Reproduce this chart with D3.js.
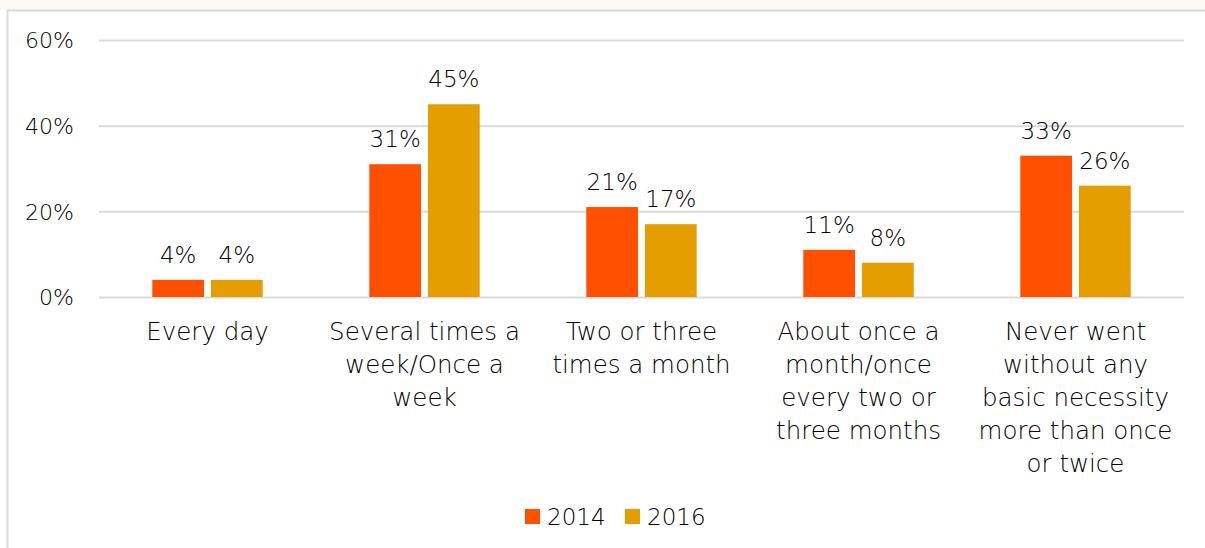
<!DOCTYPE html>
<html>
<head>
<meta charset="utf-8">
<script src="https://cdn.jsdelivr.net/npm/d3@7"></script>
<style>
  html, body { margin: 0; padding: 0; background: #fff; }
  svg { display: block; }
  text { font-family: "Century Gothic", "DejaVu Sans", sans-serif; fill: #000; font-weight: 200; }
</style>
</head>
<body>
<svg id="chart" width="1205" height="548"></svg>
<script>
// Frequency of going without a basic necessity, by survey year
const categories = [
  ["Every day"],
  ["Several times a", "week/Once a", "week"],
  ["Two or three", "times a month"],
  ["About once a", "month/once", "every two or", "three months"],
  ["Never went", "without any", "basic necessity", "more than once", "or twice"]
];
const years = ["2014", "2016"];
const values2014 = [4, 31, 21, 11, 33];
const values2016 = [4, 45, 17, 8, 26];
const yTicks = [0, 20, 40, 60];
const colors = ["#FF5000", "#E59E00"];

const series = [values2014, values2016];
const svg = d3.select("#chart");
const W = 1205, H = 548;

// outer frame
svg.append("rect").attr("x", 0).attr("y", 0).attr("width", W).attr("height", 10).attr("fill", "#fdf9f7");
svg.append("rect").attr("x", 7.5).attr("y", 10.5).attr("width", W + 10).attr("height", H + 10)
  .attr("fill", "#fff").attr("stroke", "#d9d9d9").attr("stroke-width", 2);

const plot = { left: 99, right: 1184, top: 40, bottom: 297 };
const x0 = d3.scaleBand().domain(d3.range(categories.length)).range([plot.left, plot.right]).paddingInner(0).paddingOuter(0);
const y = d3.scaleLinear().domain([0, 60]).range([plot.bottom, plot.top]);

// gridlines
const yAxis = d3.axisLeft(y).tickValues(yTicks).tickSize(-(plot.right - plot.left)).tickFormat(d => d + "%").tickPadding(25);
const gy = svg.append("g").attr("transform", `translate(${plot.left},0)`).call(yAxis);
gy.select(".domain").remove();
gy.selectAll(".tick line").attr("stroke", "#d9d9d9").attr("stroke-width", 2);
gy.selectAll(".tick text").attr("font-size", 22).attr("fill", "#000").attr("dy", "0.35em")
  .attr("font-family", '"Century Gothic", "DejaVu Sans", sans-serif');

// bars
const barW = 48.7, gap = 13;
const x1 = d3.scaleBand().domain(years).range([0, barW * 2 + gap]).paddingInner(gap / (barW * 2 + gap)).paddingOuter(0);
const groupOffset = (x0.bandwidth() - (barW * 2 + gap)) / 2;

years.forEach((yr, si) => {
  const g = svg.append("g");
  g.selectAll("rect").data(series[si]).join("rect")
    .attr("x", (d, i) => x0(i) + groupOffset + x1(yr))
    .attr("y", d => y(d))
    .attr("width", x1.bandwidth())
    .attr("height", d => y(0) - y(d))
    .attr("fill", colors[si]);
  g.selectAll("text").data(series[si]).join("text")
    .attr("x", (d, i) => x0(i) + groupOffset + x1(yr) + x1.bandwidth() / 2)
    .attr("y", d => y(d) - 17)
    .attr("text-anchor", "middle")
    .attr("font-size", 23)
    .text(d => d + "%");
});

// category labels
const lineH = 33;
categories.forEach((lines, i) => {
  const t = svg.append("text")
    .attr("x", x0(i) + x0.bandwidth() / 2)
    .attr("y", 340)
    .attr("text-anchor", "middle")
    .attr("font-size", 24.5);
  lines.forEach((ln, j) => {
    t.append("tspan").attr("x", x0(i) + x0.bandwidth() / 2).attr("dy", j === 0 ? 0 : lineH).text(ln);
  });
});

// legend
const legend = svg.append("g");
const legendItems = [{ x: 525 }, { x: 625 }];
years.forEach((yr, si) => {
  legend.append("rect").attr("x", legendItems[si].x).attr("y", 509).attr("width", 15).attr("height", 15).attr("fill", colors[si]);
  legend.append("text").attr("x", legendItems[si].x + 22).attr("y", 525).attr("font-size", 23).text(yr);
});
</script>
</body>
</html>
